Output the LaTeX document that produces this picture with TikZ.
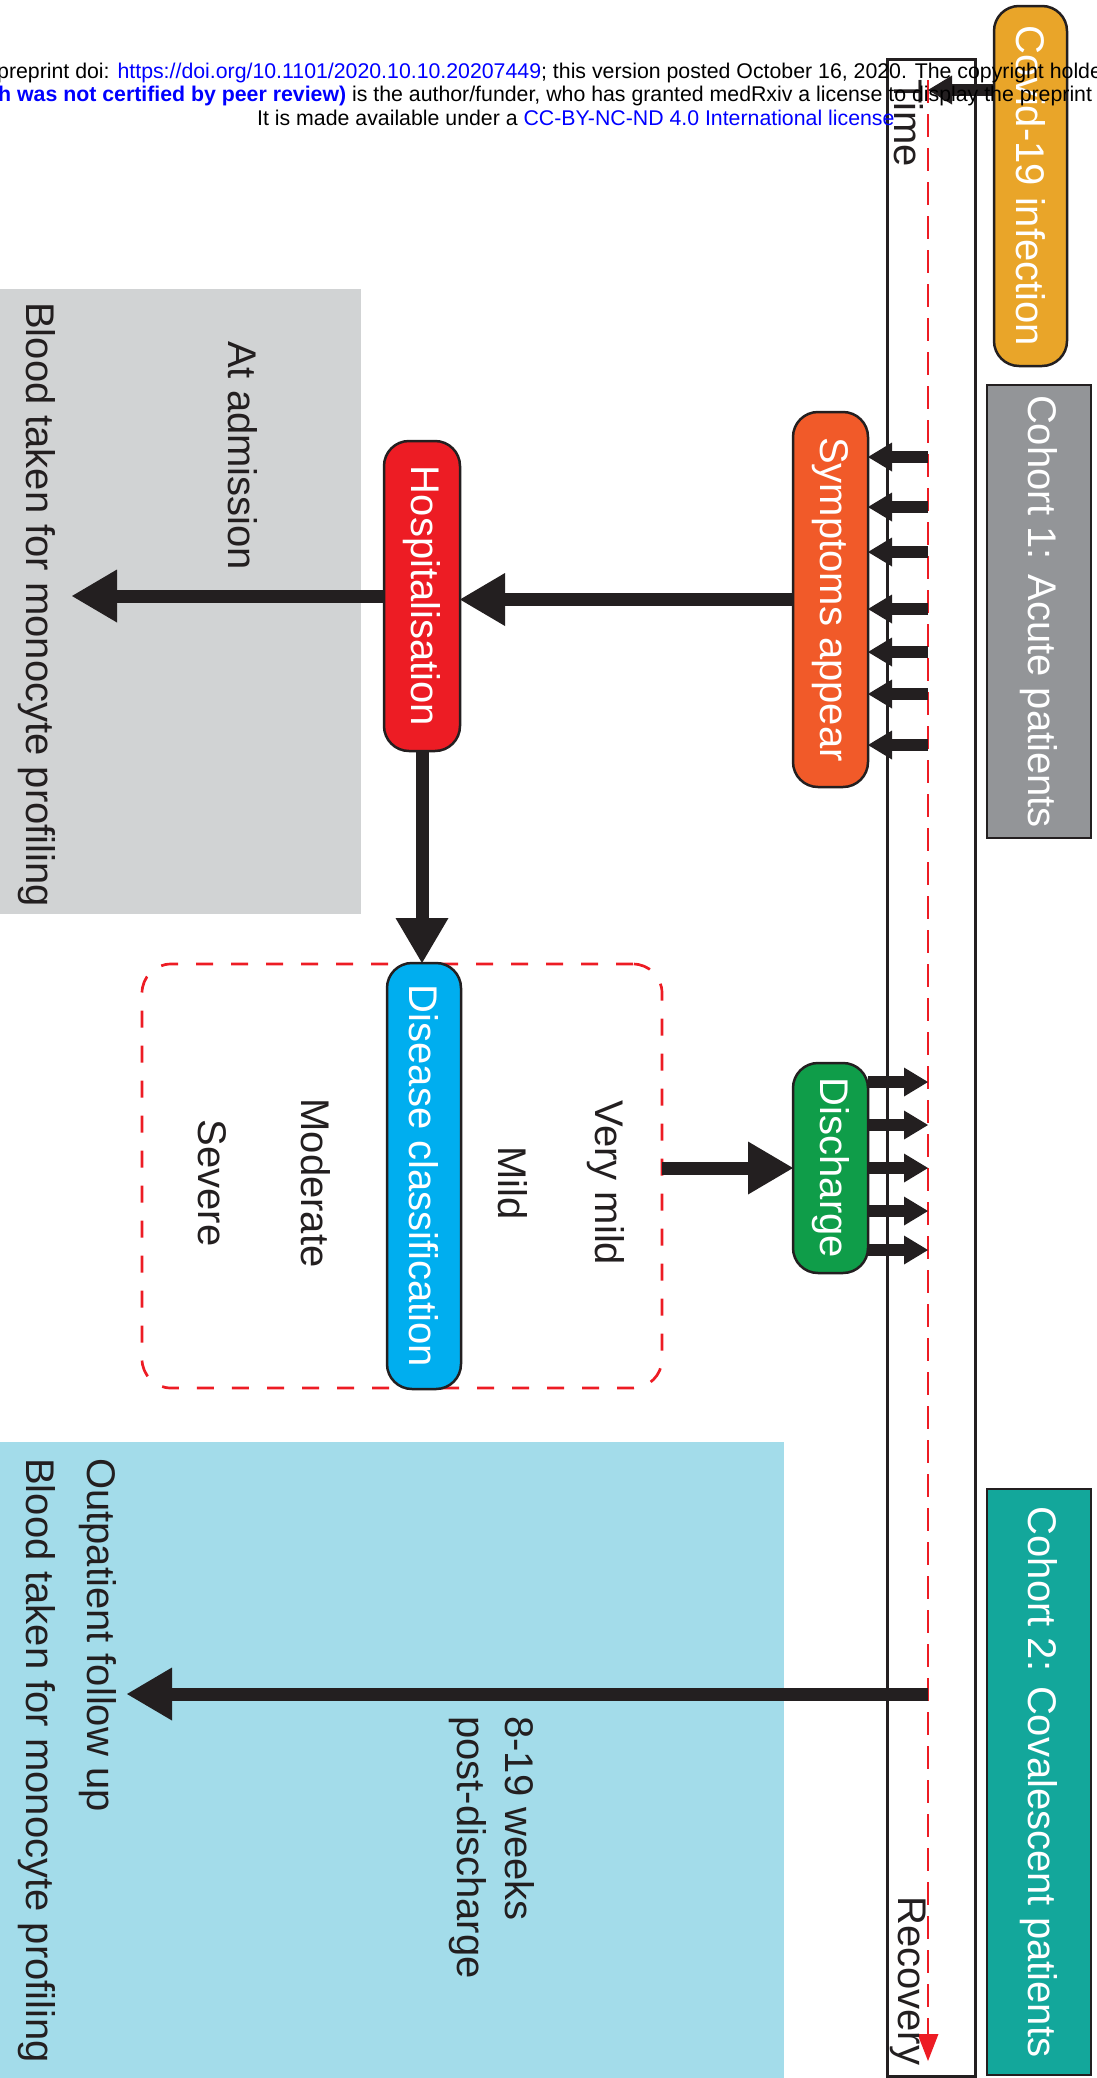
\documentclass[tikz,border=0pt]{standalone}
\usepackage{fontspec}
\setmainfont{Liberation Sans}
\usepackage{graphicx}
\usetikzlibrary{arrows.meta}
\definecolor{covidc}{RGB}{233,165,41}
\definecolor{sympc}{RGB}{241,90,41}
\definecolor{hospc}{RGB}{237,28,36}
\definecolor{disc}{RGB}{0,174,239}
\definecolor{dchc}{RGB}{15,157,73}
\definecolor{cohonec}{RGB}{147,149,152}
\definecolor{cohtwoc}{RGB}{19,167,155}
\definecolor{grayarea}{RGB}{209,211,212}
\definecolor{bluearea}{RGB}{163,220,234}
\definecolor{ink}{RGB}{35,31,32}
\definecolor{redd}{RGB}{237,28,36}
\definecolor{linkblue}{RGB}{0,0,255}
\begin{document}
\begin{tikzpicture}[x=1pt,y=-1pt,
  pill/.style={draw=ink, line width=2.5pt, rounded corners=25pt, inner sep=0pt, outer sep=0pt, text=white, font=\fontsize{40}{48}\selectfont},
  cohort/.style={draw=ink, line width=2.5pt, inner sep=0pt, outer sep=0pt, text=white, font=\fontsize{40}{48}\selectfont, minimum width=104pt},
  lbl/.style={rotate=-90, inner sep=0pt, text=ink, font=\fontsize{40}{48}\selectfont},
  bigarrow/.style={draw=ink, line width=13pt, -{Triangle[length=45pt,width=53pt,line width=0pt]}},
  smallarrow/.style={draw=ink, line width=12pt, -{Triangle[length=24pt,width=29pt,line width=0pt]}},
  hdr/.style={inner sep=0pt, font=\fontsize{21.3}{24}\selectfont, anchor=base west}
]
\useasboundingbox (0,0) rectangle (1096,2078);
% background areas
\fill[grayarea] (0,289) rectangle (361,914);
\fill[bluearea] (0,1442) rectangle (784,2078);
% dashed classification frame
\node[draw=redd, line width=2.7pt, dash pattern=on 17pt off 18pt, rounded corners=29pt,
      minimum width=520pt, minimum height=424pt, inner sep=0pt, outer sep=0pt] (cls) at (402,1176) {};
% time box
\draw[ink, line width=3pt] (887,59) rectangle (975,2076);
\coordinate (tltop) at (928,80);
\coordinate (tlend) at (928,2061);
\draw[redd, line width=2.7pt, dash pattern=on 23pt off 11pt,
      -{Triangle[length=27pt,width=21pt,line width=0pt]}] (tltop) -- (tlend);
\node[lbl, anchor=base west] (time) at (894,79) {Time};
\node[lbl, anchor=base west] (rec) at (898,1896) {Recovery};
% cohort boxes
\node[cohort, fill=cohonec, minimum height=453pt] (coh1) at (1039,611.5) {\rotatebox{-90}{Cohort 1: Acute patients}};
\node[cohort, fill=cohtwoc, minimum height=586pt] (coh2) at (1039,1782) {\rotatebox{-90}{Cohort 2: Covalescent patients}};
% pills
\node[pill, fill=covidc, minimum width=73pt, minimum height=360pt] (cov) at (1030.5,186) {\rotatebox{-90}{Covid-19 infection}};
\node[pill, fill=sympc, minimum width=75pt, minimum height=375pt] (sym) at (830.5,599.5) {\rotatebox{-90}{Symptoms appear}};
\node[pill, fill=hospc, minimum width=76pt, minimum height=310pt] (hosp) at (422,596) {\rotatebox{-90}{Hospitalisation}};
\node[pill, fill=disc, minimum width=74pt, minimum height=426pt] (dis) at (424,1176) {\rotatebox{-90}{Disease classification}};
\node[pill, fill=dchc, minimum width=75pt, minimum height=210pt] (dch) at (830.5,1168) {\rotatebox{-90}{Discharge}};
% labels
\node[lbl, anchor=base] (vmild) at (595,1183) {Very mild};
\node[lbl, anchor=base] (mild) at (498,1183) {Mild};
\node[lbl, anchor=base] (mod) at (301,1183) {Moderate};
\node[lbl, anchor=base] (sev) at (198,1183) {Severe};
\node[lbl, anchor=base west] (adm) at (228,341) {At admission};
\node[lbl, anchor=base west] (bloodone) at (26,302) {Blood taken for monocyte profiling};
\node[lbl, anchor=base west] (outp) at (87,1458) {Outpatient follow up};
\node[lbl, anchor=base west] (bloodtwo) at (26,1458) {Blood taken for monocyte profiling};
\node[lbl, anchor=base west] (wk) at (505,1716) {8-19 weeks};
\node[lbl, anchor=base west] (pd) at (457,1716) {post-discharge};
% arrows
\coordinate (admtip) at (72,596);
\coordinate (futip) at (127,1694);
\draw[smallarrow] (cov.west |- 0,90) -- (tltop |- 0,90);
\foreach \yy in {457,507,552,609,652,694,745}
  \draw[smallarrow] (tltop |- 0,\yy) -- (sym.east |- 0,\yy);
\foreach \yy in {1082,1125,1168,1211,1250}
  \draw[smallarrow] (dch.east |- 0,\yy) -- (tltop |- 0,\yy);
\draw[bigarrow] (sym.west) -- (sym.west -| hosp.east);
\draw[bigarrow] (hosp.west) -- (admtip);
\draw[bigarrow] (hosp.south) -- (hosp.south |- dis.north);
\draw[bigarrow] (cls.east |- dch.west) -- (dch.west);
\draw[bigarrow] (tltop |- futip) -- (futip);
% header
\node[hdr] (hone) at (-3,78) {preprint doi: \textcolor{linkblue}{https://doi.org/10.1101/2020.10.10.20207449}; this version posted October 16, 2020. The copyright holde};
\node[hdr] (htwo) at (-2,101.5) {\textcolor{linkblue}{\bfseries h was not certified by peer review)} is the author/funder, who has granted medRxiv a license to display the preprint};
\node[hdr] (hthree) at (257,125) {It is made available under a \textcolor{linkblue}{CC-BY-NC-ND 4.0 International license}};
\end{tikzpicture}
\end{document}
